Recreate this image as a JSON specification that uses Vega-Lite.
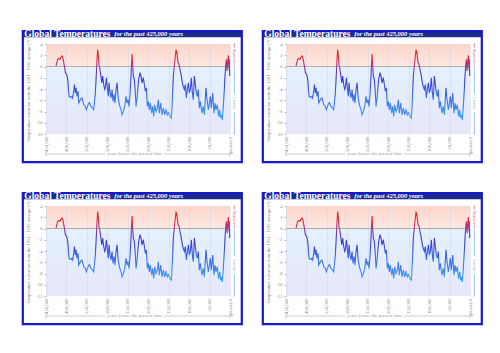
{
  "$schema": "https://vega.github.io/schema/vega-lite/v6.json",
  "padding": {"left": 21, "top": 28, "right": 0, "bottom": 0},
  "background": "white",
  "datasets": {
    "temps": [
      {"years_ago": 425400, "temp": 0.1}, {"years_ago": 421400, "temp": 1.3}, {"years_ago": 418900, "temp": 1.4}, {"years_ago": 415700, "temp": 1.3}, {"years_ago": 414000, "temp": 1.6}, {"years_ago": 410800, "temp": 1.9}, {"years_ago": 408300, "temp": 1.4}, {"years_ago": 405100, "temp": 0.1}, {"years_ago": 402600, "temp": -1.1}, {"years_ago": 399400, "temp": -1.4}, {"years_ago": 396900, "temp": -2.3}, {"years_ago": 395300, "temp": -3.8}, {"years_ago": 393600, "temp": -5.3}, {"years_ago": 388800, "temp": -5.5}, {"years_ago": 386300, "temp": -5.3}, {"years_ago": 384700, "temp": -5.6}, {"years_ago": 382200, "temp": -4.4}, {"years_ago": 380600, "temp": -3.2}, {"years_ago": 378200, "temp": -4.7}, {"years_ago": 376500, "temp": -3.8}, {"years_ago": 374100, "temp": -5.3}, {"years_ago": 371600, "temp": -4.4}, {"years_ago": 370000, "temp": -6.5}, {"years_ago": 365900, "temp": -5.9}, {"years_ago": 361900, "temp": -5.6}, {"years_ago": 357800, "temp": -6.8}, {"years_ago": 353700, "temp": -7.1}, {"years_ago": 351300, "temp": -7.7}, {"years_ago": 347200, "temp": -6.8}, {"years_ago": 343900, "temp": -6.4}, {"years_ago": 339900, "temp": -7.1}, {"years_ago": 335800, "temp": -7.4}, {"years_ago": 333300, "temp": -7.7}, {"years_ago": 329300, "temp": -4.7}, {"years_ago": 327600, "temp": -2.3}, {"years_ago": 325200, "temp": 1.3}, {"years_ago": 323600, "temp": 3.0}, {"years_ago": 321900, "temp": 1.9}, {"years_ago": 320300, "temp": 0.1}, {"years_ago": 318700, "temp": -0.2}, {"years_ago": 316200, "temp": -1.4}, {"years_ago": 313800, "temp": -2.9}, {"years_ago": 311300, "temp": -1.7}, {"years_ago": 308900, "temp": -3.2}, {"years_ago": 306400, "temp": -4.1}, {"years_ago": 304800, "temp": -3.8}, {"years_ago": 302400, "temp": -2.0}, {"years_ago": 299900, "temp": -3.8}, {"years_ago": 297500, "temp": -5.3}, {"years_ago": 295800, "temp": -2.9}, {"years_ago": 293400, "temp": -4.7}, {"years_ago": 291000, "temp": -5.6}, {"years_ago": 288500, "temp": -4.1}, {"years_ago": 286100, "temp": -6.2}, {"years_ago": 283600, "temp": -5.0}, {"years_ago": 281200, "temp": -6.5}, {"years_ago": 278700, "temp": -4.1}, {"years_ago": 276300, "temp": -2.9}, {"years_ago": 273800, "temp": -5.3}, {"years_ago": 270600, "temp": -6.8}, {"years_ago": 266500, "temp": -7.7}, {"years_ago": 264100, "temp": -8.6}, {"years_ago": 260800, "temp": -8.0}, {"years_ago": 257500, "temp": -7.1}, {"years_ago": 254300, "temp": -5.3}, {"years_ago": 251800, "temp": -6.5}, {"years_ago": 249400, "temp": -5.9}, {"years_ago": 246900, "temp": -7.1}, {"years_ago": 244500, "temp": -5.0}, {"years_ago": 242100, "temp": -1.7}, {"years_ago": 239600, "temp": 2.2}, {"years_ago": 238000, "temp": 0.1}, {"years_ago": 236400, "temp": -1.7}, {"years_ago": 233900, "temp": -2.3}, {"years_ago": 231500, "temp": -4.7}, {"years_ago": 229800, "temp": -7.1}, {"years_ago": 227400, "temp": -5.6}, {"years_ago": 224900, "temp": -3.5}, {"years_ago": 223300, "temp": -2.3}, {"years_ago": 220100, "temp": -1.1}, {"years_ago": 217600, "temp": -1.7}, {"years_ago": 215200, "temp": -2.9}, {"years_ago": 211900, "temp": -2.0}, {"years_ago": 209500, "temp": -3.2}, {"years_ago": 207000, "temp": -4.4}, {"years_ago": 204600, "temp": -3.8}, {"years_ago": 202100, "temp": -7.1}, {"years_ago": 199700, "temp": -6.2}, {"years_ago": 197200, "temp": -7.7}, {"years_ago": 194800, "temp": -6.5}, {"years_ago": 191500, "temp": -8.3}, {"years_ago": 189100, "temp": -7.1}, {"years_ago": 186600, "temp": -8.9}, {"years_ago": 184200, "temp": -6.8}, {"years_ago": 180900, "temp": -8.0}, {"years_ago": 177700, "temp": -7.4}, {"years_ago": 175200, "temp": -5.9}, {"years_ago": 172800, "temp": -8.3}, {"years_ago": 169500, "temp": -6.5}, {"years_ago": 166300, "temp": -8.6}, {"years_ago": 163000, "temp": -7.4}, {"years_ago": 159700, "temp": -8.6}, {"years_ago": 156500, "temp": -7.7}, {"years_ago": 153200, "temp": -8.6}, {"years_ago": 150800, "temp": -8.2}, {"years_ago": 146700, "temp": -8.9}, {"years_ago": 143400, "temp": -9.2}, {"years_ago": 141000, "temp": -5.9}, {"years_ago": 138600, "temp": -1.7}, {"years_ago": 135300, "temp": 0.7}, {"years_ago": 132000, "temp": 3.0}, {"years_ago": 129600, "temp": 2.2}, {"years_ago": 127100, "temp": 0.7}, {"years_ago": 124700, "temp": 0.4}, {"years_ago": 122300, "temp": -0.5}, {"years_ago": 119800, "temp": -1.4}, {"years_ago": 115700, "temp": -3.2}, {"years_ago": 111700, "temp": -4.1}, {"years_ago": 109200, "temp": -3.2}, {"years_ago": 106800, "temp": -5.6}, {"years_ago": 104300, "temp": -4.1}, {"years_ago": 101900, "temp": -2.9}, {"years_ago": 99400, "temp": -4.7}, {"years_ago": 97000, "temp": -4.1}, {"years_ago": 94500, "temp": -2.0}, {"years_ago": 92100, "temp": -4.7}, {"years_ago": 89700, "temp": -5.9}, {"years_ago": 87200, "temp": -1.7}, {"years_ago": 84800, "temp": -3.2}, {"years_ago": 82300, "temp": -4.7}, {"years_ago": 79900, "temp": -5.3}, {"years_ago": 77400, "temp": -4.1}, {"years_ago": 75000, "temp": -7.4}, {"years_ago": 72500, "temp": -6.2}, {"years_ago": 68500, "temp": -8.3}, {"years_ago": 65200, "temp": -7.1}, {"years_ago": 62800, "temp": -8.6}, {"years_ago": 58700, "temp": -3.8}, {"years_ago": 56200, "temp": -5.9}, {"years_ago": 53000, "temp": -7.7}, {"years_ago": 50500, "temp": -6.5}, {"years_ago": 48100, "temp": -5.3}, {"years_ago": 45600, "temp": -7.4}, {"years_ago": 42400, "temp": -4.7}, {"years_ago": 39100, "temp": -8.3}, {"years_ago": 36700, "temp": -6.5}, {"years_ago": 34200, "temp": -7.7}, {"years_ago": 31000, "temp": -6.8}, {"years_ago": 27700, "temp": -8.9}, {"years_ago": 25300, "temp": -7.7}, {"years_ago": 22800, "temp": -9.2}, {"years_ago": 20400, "temp": -8.6}, {"years_ago": 18700, "temp": -9.5}, {"years_ago": 16300, "temp": -7.1}, {"years_ago": 13900, "temp": -4.1}, {"years_ago": 12200, "temp": -1.7}, {"years_ago": 10600, "temp": 0.1}, {"years_ago": 9000, "temp": 1.3}, {"years_ago": 7300, "temp": -0.8}, {"years_ago": 5700, "temp": 0.7}, {"years_ago": 4100, "temp": 2.0}, {"years_ago": 2400, "temp": -0.5}, {"years_ago": 1600, "temp": 1.3}, {"years_ago": 800, "temp": -1.7}
    ]
  },
  "repeat": ["a", "b", "c", "d"],
  "columns": 2,
  "spacing": {"row": 26, "column": 18},
  "spec": {
    "width": 184,
    "height": 90,
    "resolve": {"axis": {"x": "independent", "y": "independent"}},
    "layer": [
      {
        "data": {"values": [{}]},
        "mark": {"type": "rule", "color": "#a8988a", "strokeWidth": 0.8},
        "encoding": {"y": {"datum": 0, "type": "quantitative", "axis": null}}
      },
      {
        "data": {"name": "temps"},
        "mark": {
          "type": "line",
          "strokeWidth": 1.1,
          "stroke": {
            "gradient": "linear", "x1": 0, "y1": 0, "x2": 0, "y2": 1,
            "stops": [
              {"offset": 0, "color": "#e8251e"},
              {"offset": 0.12, "color": "#e0283a"},
              {"offset": 0.24, "color": "#9a3596"},
              {"offset": 0.36, "color": "#4a36c8"},
              {"offset": 0.5, "color": "#3848d8"},
              {"offset": 0.7, "color": "#3a72e8"},
              {"offset": 1, "color": "#3fa0f4"}
            ]
          }
        },
        "encoding": {
          "x": {
            "field": "years_ago", "type": "quantitative",
            "scale": {"domain": [450000, 0], "nice": false, "zero": false},
            "axis": {
              "values": [450000, 400000, 350000, 300000, 250000, 200000, 150000, 100000, 50000, 0],
              "labelExpr": "datum.value == 0 ? 'present 0' : format(datum.value, ',')",
              "labelAngle": 270, "labelAlign": "right", "labelBaseline": "middle",
              "labelPadding": 2, "ticks": false, "title": null, "domain": false,
              "labelOverlap": false, "labelFontSize": 4.8, "labelBound": false, "labelFlush": false
            }
          },
          "y": {
            "field": "temp", "type": "quantitative",
            "scale": {"domain": [-12, 4], "nice": false, "zero": false},
            "axis": {
              "values": [-12, -10, -8, -6, -4, -2, 0, 2, 4],
              "labelExpr": "datum.value + ''",
              "title": "Temperature variation from the 1961 - 1990 average (°C)",
              "titlePadding": 6, "ticks": true, "tickSize": 2, "labelPadding": 2, "domain": false,
              "labelOverlap": false, "labelBound": false, "labelFlush": false
            }
          }
        }
      },
      {
        "data": {"values": [{}]},
        "mark": {"type": "rect", "fill": "#1d2b8c"},
        "encoding": {
          "x": {"datum": 506700, "type": "quantitative", "axis": null}, "x2": {"datum": -28900},
          "y": {"datum": 6.5, "type": "quantitative", "axis": null}, "y2": {"datum": 5.2}
        }
      },
      {
        "data": {"values": [{}]},
        "mark": {"type": "rect", "filled": false, "stroke": "#1818cc", "strokeWidth": 2.2},
        "encoding": {
          "x": {"datum": 506700, "type": "quantitative", "axis": null}, "x2": {"datum": -28900},
          "y": {"datum": 6.3, "type": "quantitative", "axis": null}, "y2": {"datum": -17.0}
        }
      },
      {
        "data": {"values": [{}]},
        "mark": {"type": "text", "text": "Global Temperatures", "align": "left", "baseline": "middle", "font": "Liberation Serif", "fontSize": 9.5, "fontWeight": "bold", "color": "white"},
        "encoding": {"x": {"datum": 503000, "type": "quantitative", "axis": null}, "y": {"datum": 5.85, "type": "quantitative", "axis": null}}
      },
      {
        "data": {"values": [{}]},
        "mark": {"type": "text", "text": "for the past 425,000 years", "align": "left", "baseline": "middle", "font": "Liberation Serif", "fontSize": 6.5, "fontWeight": "bold", "fontStyle": "italic", "color": "white"},
        "encoding": {"x": {"datum": 283000, "type": "quantitative", "axis": null}, "y": {"datum": 5.8, "type": "quantitative", "axis": null}}
      },
      {
        "data": {"values": [{}]},
        "mark": {"type": "text", "text": "years before the present time", "align": "center", "baseline": "middle", "font": "Liberation Serif", "fontSize": 4.8, "color": "#999999"},
        "encoding": {"x": {"datum": 233000, "type": "quantitative", "axis": null}, "y": {"datum": -15.56, "type": "quantitative", "axis": null}}
      },
      {
        "data": {"values": [{}]},
        "mark": {"type": "rule", "color": "#aaaaaa", "strokeWidth": 0.6},
        "encoding": {"x": {"datum": 450000, "type": "quantitative", "axis": null}, "x2": {"datum": 305000}, "y": {"datum": -15.56, "type": "quantitative", "axis": null}}
      },
      {
        "data": {"values": [{}]},
        "mark": {"type": "rule", "color": "#aaaaaa", "strokeWidth": 0.6},
        "encoding": {"x": {"datum": 161400, "type": "quantitative", "axis": null}, "x2": {"datum": 0}, "y": {"datum": -15.56, "type": "quantitative", "axis": null}}
      },
      {
        "data": {"values": [{}]},
        "mark": {"type": "rule", "color": "#aaaaaa", "strokeWidth": 0.6},
        "encoding": {"x": {"datum": 450000, "type": "quantitative", "axis": null}, "y": {"datum": -15.1, "type": "quantitative", "axis": null}, "y2": {"datum": -16.0}}
      },
      {
        "data": {"values": [{}]},
        "mark": {"type": "rule", "color": "#aaaaaa", "strokeWidth": 0.6},
        "encoding": {"x": {"datum": 0, "type": "quantitative", "axis": null}, "y": {"datum": -15.1, "type": "quantitative", "axis": null}, "y2": {"datum": -16.0}}
      },
      {
        "data": {"values": [{}]},
        "mark": {"type": "rule", "color": "#e07070", "strokeWidth": 0.7},
        "encoding": {"x": {"datum": -10500, "type": "quantitative", "axis": null}, "y": {"datum": 4, "type": "quantitative", "axis": null}, "y2": {"datum": 3.3}}
      },
      {
        "data": {"values": [{}]},
        "mark": {"type": "rule", "color": "#e07070", "strokeWidth": 0.7},
        "encoding": {"x": {"datum": -10500, "type": "quantitative", "axis": null}, "y": {"datum": 0.7, "type": "quantitative", "axis": null}, "y2": {"datum": 0.05}}
      },
      {
        "data": {"values": [{}]},
        "mark": {"type": "rule", "color": "#e07070", "strokeWidth": 0.7},
        "encoding": {"x": {"datum": -12500, "type": "quantitative", "axis": null}, "x2": {"datum": -8500}, "y": {"datum": 4, "type": "quantitative", "axis": null}}
      },
      {
        "data": {"values": [{}]},
        "mark": {"type": "text", "text": "Warmer", "angle": 90, "align": "center", "baseline": "middle", "font": "Liberation Serif", "fontSize": 4.3, "color": "#e07070"},
        "encoding": {"x": {"datum": -10500, "type": "quantitative", "axis": null}, "y": {"datum": 2, "type": "quantitative", "axis": null}}
      },
      {
        "data": {"values": [{}]},
        "mark": {"type": "rule", "color": "#6aa6d6", "strokeWidth": 0.7},
        "encoding": {"x": {"datum": -10500, "type": "quantitative", "axis": null}, "y": {"datum": -0.05, "type": "quantitative", "axis": null}, "y2": {"datum": -4.9}}
      },
      {
        "data": {"values": [{}]},
        "mark": {"type": "rule", "color": "#6aa6d6", "strokeWidth": 0.7},
        "encoding": {"x": {"datum": -10500, "type": "quantitative", "axis": null}, "y": {"datum": -8.1, "type": "quantitative", "axis": null}, "y2": {"datum": -12}}
      },
      {
        "data": {"values": [{}]},
        "mark": {"type": "rule", "color": "#6aa6d6", "strokeWidth": 0.7},
        "encoding": {"x": {"datum": -12500, "type": "quantitative", "axis": null}, "x2": {"datum": -8500}, "y": {"datum": -12, "type": "quantitative", "axis": null}}
      },
      {
        "data": {"values": [{}]},
        "mark": {"type": "text", "text": "Cooler", "angle": 90, "align": "center", "baseline": "middle", "font": "Liberation Serif", "fontSize": 4.3, "color": "#6aa6d6"},
        "encoding": {"x": {"datum": -10500, "type": "quantitative", "axis": null}, "y": {"datum": -6.5, "type": "quantitative", "axis": null}}
      }
    ]
  },
  "config": {
    "view": {
      "stroke": null,
      "fill": {
        "gradient": "linear", "x1": 0, "y1": 0, "x2": 0, "y2": 1,
        "stops": [
          {"offset": 0, "color": "#fbd6cb"},
          {"offset": 0.25, "color": "#fde8e2"},
          {"offset": 0.25, "color": "#e3f1fd"},
          {"offset": 1, "color": "#e7e7f8"}
        ]
      }
    },
    "axis": {
      "labelFont": "Liberation Serif", "labelFontSize": 4.5, "labelColor": "#888888",
      "titleFont": "Liberation Serif", "titleFontSize": 4.6, "titleFontWeight": "normal", "titleColor": "#888888",
      "tickColor": "#bbbbbb", "gridColor": "#cdd5ea", "gridOpacity": 0.8, "gridWidth": 0.6
    }
  }
}
